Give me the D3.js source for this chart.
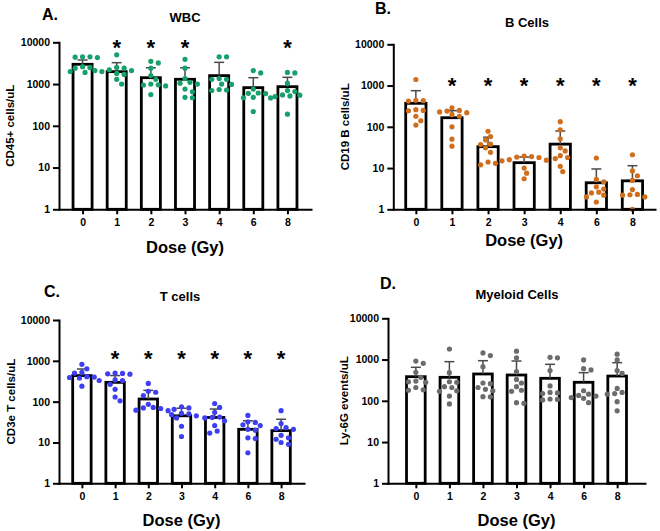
<!DOCTYPE html>
<html>
<head>
<meta charset="utf-8">
<script src="https://cdn.jsdelivr.net/npm/d3@7"></script>
<style>
  html, body { margin: 0; padding: 0; background: #ffffff; }
  svg { display: block; }
  text { font-family: "Liberation Sans", Arial, sans-serif; font-weight: bold; fill: #000; }
</style>
</head>
<body>
<svg id="chart" width="660" height="531"></svg>
<script>
// ---------- DATA ----------
const doses = ["0", "1", "2", "3", "4", "6", "8"];
const yTicks = [1, 10, 100, 1000, 10000];

// A. WBC (CD45+ cells/uL)
const wbcMean = [2970, 1980, 1420, 1300, 1590, 820, 865];
const wbcSD = [800, 1270, 1040, 1160, 1720, 600, 585];
const wbcPoints = [
  [4500, 4400, 4300, 4500, 2500, 2600, 2400, 2000, 1900, 2100],
  [5000, 2500, 2400, 2100, 2000, 1800, 1700, 1300, 1000, 2200],
  [3500, 3200, 2400, 1600, 1300, 1000, 950, 900, 960, 560],
  [3900, 2400, 1350, 1050, 1000, 760, 650, 470, 480, 1100],
  [4500, 4500, 1350, 1300, 1300, 1000, 980, 720, 700, 740],
  [2100, 1850, 760, 600, 610, 590, 480, 470, 465, 220],
  [1900, 1850, 1050, 700, 660, 550, 540, 520, 500, 190]
];
const wbcStars = ["1", "2", "3", "8"];

// B. B cells (CD19 B cells/uL)
const bMean = [371, 166, 33, 13.5, 38, 4.4, 4.9];
const bSD = [380, 80, 23, 5, 41, 5.1, 6.5];
const bPoints = [
  [1400, 430, 420, 440, 260, 250, 245, 180, 140, 110],
  [290, 250, 230, 240, 220, 200, 180, 100, 50, 34],
  [78, 58, 48, 38, 37, 31, 24, 14, 12, 13],
  [19.5, 19, 18, 18.5, 16, 15, 15.5, 10, 7.5, 5.5],
  [133, 84, 51, 31, 26, 18, 17, 11, 8.2, 20],
  [17.5, 5.3, 4.6, 3.5, 3.1, 2.6, 2.5, 2.2, 2.0, 1.5],
  [21, 8.5, 6.5, 5, 2.3, 2.25, 2.2, 2.0, 1.0, 3.0]
];
const bStars = ["1", "2", "3", "4", "6", "8"];

// C. T cells (CD3e T cells/uL)
const tMean = [435, 297, 116, 45, 41, 21, 19.5];
const tSD = [196, 138, 73, 24, 25, 13, 17.5];
const tPoints = [
  [820, 640, 520, 500, 410, 400, 390, 380, 330, 240],
  [500, 490, 480, 470, 340, 330, 265, 200, 130, 105],
  [280, 180, 170, 140, 86, 72, 70, 68, 60, 62],
  [75, 70, 65, 52, 50, 48, 45, 40, 25, 14],
  [90, 72, 55, 42, 41, 40, 34, 26, 19, 17],
  [46, 32, 31, 27, 26, 21, 20, 13, 12.5, 5.6],
  [60, 29, 23, 22, 21, 15, 13, 12, 10, 9]
];
const tStars = ["1", "2", "3", "4", "6", "8"];

// D. Myeloid cells (Ly-6G events/uL)
const mMean = [384, 371, 447, 422, 351, 281, 398];
const mSD = [265, 518, 492, 500, 415, 200, 442];
const mPoints = [
  [920, 810, 490, 370, 300, 290, 280, 210, 185, 180],
  [1800, 480, 290, 280, 220, 210, 175, 170, 130, 84],
  [1450, 1250, 670, 270, 260, 210, 190, 175, 125, 126],
  [1600, 1100, 510, 330, 270, 220, 180, 170, 87, 90],
  [1130, 1100, 540, 230, 160, 155, 150, 110, 108, 105],
  [980, 600, 560, 175, 145, 135, 130, 120, 115, 90],
  [1350, 980, 540, 460, 200, 160, 150, 145, 95, 57]
];
const mStars = [];

// ---------- LAYOUT ----------
const panels = [
  { tag: "A.", title: "WBC", ylabel: "CD45+ cells/uL", mean: wbcMean, sd: wbcSD, pts: wbcPoints, stars: wbcStars,
    color: "#16a06c", x0: 59, x1: 311, yTop: 42.3, yBot: 209.3, pad: 0.69,
    tagX: 42, tagY: 20, titleX: 185, titleY: 21.7, ylabX: 14, starY: 42, doseY: 253 },
  { tag: "B.", title: "B Cells", ylabel: "CD19 B cells/uL", mean: bMean, sd: bSD, pts: bPoints, stars: bStars,
    color: "#cf6e1c", x0: 393.3, x1: 655, yTop: 44.3, yBot: 209.3, pad: 0.625,
    tagX: 375, tagY: 14, titleX: 527, titleY: 26.7, ylabX: 349, starY: 80.7, doseY: 246 },
  { tag: "C.", title: "T cells", ylabel: "CD3e T cells/uL", mean: tMean, sd: tSD, pts: tPoints, stars: tStars,
    color: "#3e3ef2", x0: 59, x1: 304, yTop: 320, yBot: 483.3, pad: 0.69,
    tagX: 44, tagY: 297, titleX: 180, titleY: 301, ylabX: 15, starY: 353.3, doseY: 526 },
  { tag: "D.", title: "Myeloid Cells", ylabel: "Ly-6G events/uL", mean: mMean, sd: mSD, pts: mPoints, stars: mStars,
    color: "#6c6c6c", x0: 388, x1: 645, yTop: 318.3, yBot: 483.3, pad: 0.83,
    tagX: 380, tagY: 289, titleX: 517, titleY: 299, ylabX: 348, starY: null, doseY: 526 }
];

const svg = d3.select("#chart");
const R = 2.6;

function swarm(values, cx, y, r) {
  const placed = [];
  const sorted = values.map(v => ({ v, y: y(v) })).sort((a, b) => a.y - b.y);
  const step = r * 0.95;
  for (const p of sorted) {
    let best = cx;
    for (let k = 0; k < 60; k++) {
      const off = (k % 2 === 1 ? 1 : -1) * Math.ceil(k / 2) * step;
      const x = cx + off;
      if (placed.every(q => Math.hypot(q.x - x, q.y - p.y) >= 2 * r + 0.5)) { best = x; break; }
    }
    placed.push({ x: best, y: p.y });
  }
  return placed;
}

panels.forEach(P => {
  const g = svg.append("g");
  const x = d3.scalePoint().domain(doses).range([P.x0, P.x1]).padding(P.pad);
  const y = d3.scaleLog().domain([1, 10000]).range([P.yBot, P.yTop]);
  const step = x.step();
  const bw = step * 0.64 - 2.8;

  // bars
  g.selectAll("rect.bar").data(doses).enter().append("rect")
    .attr("x", d => x(d) - bw / 2)
    .attr("y", (d, i) => y(P.mean[i]))
    .attr("width", bw)
    .attr("height", (d, i) => P.yBot - y(P.mean[i]))
    .attr("fill", "#ffffff").attr("stroke", "#000").attr("stroke-width", 2.8);

  // error bars (upper SD)
  const eb = g.selectAll("g.eb").data(doses).enter().append("g");
  eb.append("line")
    .attr("x1", d => x(d)).attr("x2", d => x(d))
    .attr("y1", (d, i) => y(P.mean[i])).attr("y2", (d, i) => y(P.mean[i] + P.sd[i]))
    .attr("stroke", "#4a4a4a").attr("stroke-width", 1.5);
  eb.append("line")
    .attr("x1", d => x(d) - 5).attr("x2", d => x(d) + 5)
    .attr("y1", (d, i) => y(P.mean[i] + P.sd[i])).attr("y2", (d, i) => y(P.mean[i] + P.sd[i]))
    .attr("stroke", "#4a4a4a").attr("stroke-width", 1.5);

  // points
  doses.forEach((d, i) => {
    const pos = swarm(P.pts[i], x(d), y, R);
    g.selectAll(null).data(pos).enter().append("circle")
      .attr("cx", p => p.x).attr("cy", p => p.y).attr("r", R)
      .attr("fill", P.color);
  });

  // axes
  const yAxis = d3.axisLeft(y).tickValues(yTicks).tickFormat(d3.format("d"))
    .tickSize(6).tickSizeOuter(0).tickPadding(3);
  const ya = g.append("g").attr("transform", `translate(${P.x0},0)`).call(yAxis);
  const xAxis = d3.axisBottom(x).tickSize(5).tickSizeOuter(0).tickPadding(4);
  const xa = g.append("g").attr("transform", `translate(0,${P.yBot})`).call(xAxis);
  [ya, xa].forEach(a => {
    a.select(".domain").attr("stroke", "#000").attr("stroke-width", 2).attr("stroke-linecap", "square");
    a.selectAll(".tick line").attr("stroke", "#000").attr("stroke-width", 2);
    a.selectAll(".tick text").attr("font-size", "10.5px").attr("font-weight", "bold")
      .attr("font-family", "'Liberation Sans', Arial, sans-serif").attr("fill", "#000");
  });

  // stars
  if (P.starY !== null) {
    g.selectAll("text.star").data(P.stars).enter().append("text")
      .attr("x", d => x(d)).attr("y", P.starY + 12.5)
      .attr("text-anchor", "middle").attr("font-size", "22px").text("*");
  }

  // labels
  g.append("text").attr("x", P.tagX).attr("y", P.tagY).attr("font-size", "16px").text(P.tag);
  g.append("text").attr("x", P.titleX).attr("y", P.titleY).attr("text-anchor", "middle")
    .attr("font-size", "13px").text(P.title);
  g.append("text").attr("transform", `translate(${P.ylabX},${(P.yTop + P.yBot) / 2}) rotate(-90)`)
    .attr("text-anchor", "middle").attr("font-size", "11.5px").text(P.ylabel);
  g.append("text").attr("x", (P.x0 + P.x1) / 2).attr("y", P.doseY).attr("text-anchor", "middle")
    .attr("font-size", "16.5px").text("Dose (Gy)");
});
</script>
</body>
</html>
